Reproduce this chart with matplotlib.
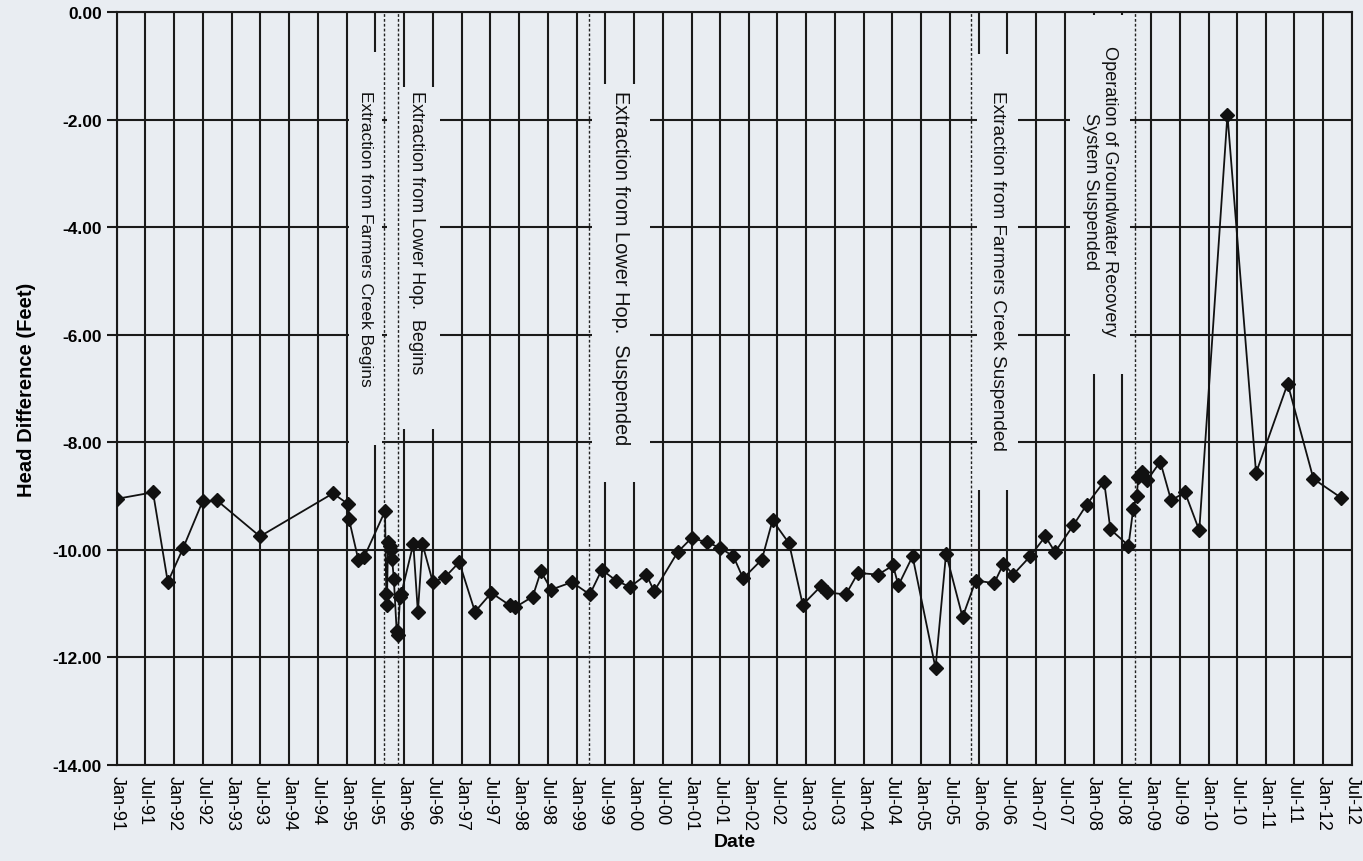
import pandas as pd
import matplotlib.pyplot as plt
import matplotlib.dates as mdates
from matplotlib.patches import Rectangle

plt.rcParams['font.family'] = ['Liberation Sans', 'DejaVu Sans']

BG = "#e9edf2"

dates = [
    "1991-01-03", "1991-08-18", "1991-11-20", "1992-02-25", "1992-06-28", "1992-09-27",
    "1993-06-28", "1994-10-05", "1995-01-10", "1995-01-15", "1995-03-15", "1995-04-22",
    "1995-09-01", "1995-09-09", "1995-09-13", "1995-09-20", "1995-10-01", "1995-10-08",
    "1995-10-16", "1995-10-27", "1995-11-14", "1995-11-21", "1995-12-06", "1995-12-13",
    "1996-02-28", "1996-03-28", "1996-04-26", "1996-07-01", "1996-09-16", "1996-12-16",
    "1997-03-26", "1997-07-08", "1997-11-02", "1997-12-05", "1998-03-28", "1998-05-19",
    "1998-07-24", "1998-12-02", "1999-03-26", "1999-06-10", "1999-09-09", "1999-12-06",
    "2000-03-20", "2000-05-08", "2000-10-05", "2001-01-01", "2001-04-10", "2001-06-29",
    "2001-09-24", "2001-11-25", "2002-03-24", "2002-05-31", "2002-09-13", "2002-12-09",
    "2003-04-02", "2003-05-12", "2003-09-09", "2003-11-25", "2004-04-01", "2004-07-05",
    "2004-08-08", "2004-11-06", "2005-04-01", "2005-06-07", "2005-09-20", "2005-12-13",
    "2006-04-09", "2006-06-07", "2006-08-08", "2006-11-24", "2007-02-28", "2007-05-01",
    "2007-08-26", "2007-11-18", "2008-03-08", "2008-04-17", "2008-08-10", "2008-09-09",
    "2008-10-01", "2008-10-12", "2008-11-03", "2008-12-06", "2009-02-28", "2009-05-08",
    "2009-08-04", "2009-11-03", "2010-05-01", "2010-10-30", "2011-05-19", "2011-10-30",
    "2012-04-22",
]
head_diff = [
    -9.05, -8.93, -10.60, -9.97, -9.10, -9.08,
    -9.75, -8.95, -9.15, -9.43, -10.18, -10.13,
    -9.28, -10.82, -11.03, -9.86, -9.92, -10.01,
    -10.17, -10.54, -11.50, -11.58, -10.88, -10.82,
    -9.89, -11.16, -9.89, -10.60, -10.51, -10.23,
    -11.15, -10.80, -11.03, -11.07, -10.87, -10.40,
    -10.74, -10.60, -10.83, -10.37, -10.57, -10.69,
    -10.46, -10.77, -10.04, -9.78, -9.86, -9.96,
    -10.12, -10.53, -10.18, -9.45, -9.88, -11.02,
    -10.68, -10.79, -10.83, -10.43, -10.46, -10.29,
    -10.66, -10.12, -12.20, -10.07, -11.25, -10.57,
    -10.62, -10.26, -10.46, -10.12, -9.75, -10.04,
    -9.54, -9.16, -8.73, -9.62, -9.92, -9.24,
    -8.99, -8.65, -8.56, -8.71, -8.36, -9.08,
    -8.93, -9.64, -1.91, -8.57, -6.91, -8.68,
    -9.03,
]

event_dates = ["1995-08-25", "1995-11-20", "1999-03-20", "2005-11-13", "2008-09-20"]
event_labels = [
    "Extraction from Farmers Creek Begins",
    "Extraction from Lower Hop.  Begins",
    "Extraction from Lower Hop.  Suspended",
    "Extraction from Farmers Creek Suspended",
    "Operation of Groundwater Recovery\nSystem Suspended",
]

# label boxes (layout only): left, right, top, bottom, text x, text top, font size
label_boxes = [
    ("1995-01-18", "1995-08-15", -0.74, -8.05, "1995-04-28", -1.45, 12.5),
    ("1995-09-12", "1996-08-15", -1.39, -7.75, "1996-03-20", -1.45, 13),
    ("1999-04-10", "2000-04-10", -1.34, -8.74, "1999-10-05", -1.45, 14.4),
    ("2005-12-20", "2006-09-10", -0.78, -8.88, "2006-04-28", -1.45, 13.7),
    ("2007-08-01", "2008-08-20", -0.06, -6.73, "2008-02-10", -0.62, 13.1),
]

df = pd.DataFrame({"Date": pd.to_datetime(dates), "Head": head_diff})

fig = plt.figure(figsize=(13.63, 8.62), dpi=100, facecolor=BG)
ax = fig.add_axes([117 / 1363, 96 / 862, 1235 / 1363, 753 / 862], facecolor=BG)
ax.set_axisbelow(True)

ax.plot(df["Date"], df["Head"], color="#111111", lw=1.3, marker="D",
        markersize=7, zorder=4)

for left, right, top, bottom, tx, ttop, fs in label_boxes:
    x0 = mdates.date2num(pd.Timestamp(left))
    x1 = mdates.date2num(pd.Timestamp(right))
    ax.add_patch(Rectangle((x0, bottom), x1 - x0, top - bottom,
                           facecolor=BG, edgecolor="none", zorder=1))

for (left, right, top, bottom, tx, ttop, fs), label in zip(label_boxes, event_labels):
    ax.text(pd.Timestamp(tx), ttop, label, rotation=270, ha="center", va="top",
            multialignment="center", fontsize=fs, color="#111111", zorder=2)

for d in event_dates:
    ax.axvline(pd.Timestamp(d), color="#222222", lw=1.0, ls=(0, (2, 1.5)), zorder=3)

ax.set_xlim(pd.Timestamp("1991-01-01"), pd.Timestamp("2012-07-01"))
ax.set_ylim(-14, 0)
ax.set_yticks([0, -2, -4, -6, -8, -10, -12, -14])
ax.yaxis.set_major_formatter(plt.FormatStrFormatter("%.2f"))
ax.xaxis.set_major_locator(mdates.MonthLocator(bymonth=[1, 7]))
ax.xaxis.set_major_formatter(mdates.DateFormatter("%b-%y"))

ax.grid(True, color="#1a1a1a", lw=1.5)
ax.tick_params(axis="x", length=0, pad=7, labelsize=13, labelrotation=270)
ax.tick_params(axis="y", length=7, width=1.5, color="#1a1a1a", labelsize=12.5, pad=4)
for lab in ax.get_yticklabels():
    lab.set_fontweight("semibold")
for s in ax.spines.values():
    s.set_color("#1a1a1a")
    s.set_linewidth(1.5)

ax.set_xlabel("Date", fontsize=14, fontweight="bold", labelpad=2)
ax.set_ylabel("Head Difference (Feet)", fontsize=14.5, fontweight="bold", labelpad=12)

plt.savefig("out.png", dpi=100, facecolor=BG)
